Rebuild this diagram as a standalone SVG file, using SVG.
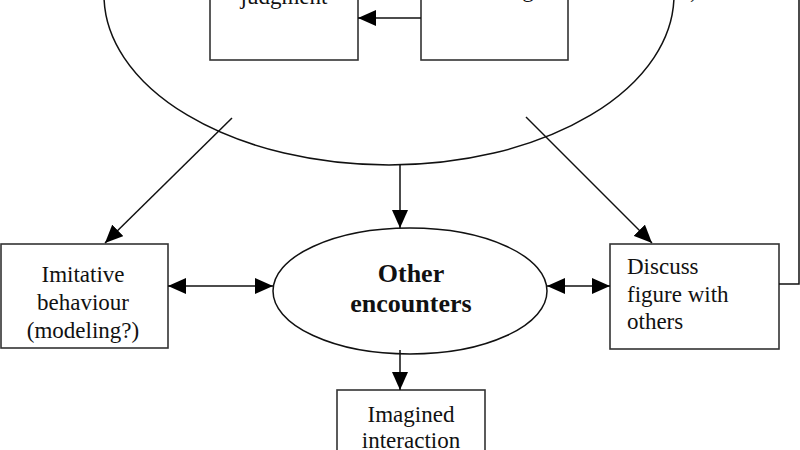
<svg xmlns="http://www.w3.org/2000/svg" width="800" height="450" viewBox="0 0 800 450">
<style>
.t{font-family:"Liberation Serif","Times New Roman",serif;font-size:23px;fill:#111}
.b{font-weight:bold;font-size:26px}
.box{fill:#fff;stroke:#333;stroke-width:1.6}
.ell{fill:#fff;stroke:#111;stroke-width:1.5}
.c{stroke:#111;stroke-width:1.5;fill:none}
</style>
<defs>
<marker id="ah" viewBox="0 0 18 16" refX="18" refY="8" markerWidth="18" markerHeight="16" markerUnits="userSpaceOnUse" orient="auto-start-reverse">
<path d="M0,0 L18,8 L0,16 z" fill="#000"/>
</marker>
</defs>
<rect width="800" height="450" fill="#fff"/>
<g id="big-ellipse">
<ellipse class="ell" cx="389" cy="-5" rx="285" ry="170"/>
<text class="t" x="690" y="-2">,</text>
</g>
<g id="judgment">
<rect class="box" x="210" y="-20" width="148" height="80"/>
<text class="t" x="284" y="4" text-anchor="middle">judgment</text>
</g>
<g id="top-right-box">
<rect class="box" x="421" y="-20" width="147" height="80"/>
<text class="t" x="528" y="-3" text-anchor="middle">g</text>
</g>
<g id="imitative">
<rect class="box" x="1" y="244" width="167" height="104"/>
<text class="t" text-anchor="middle"><tspan x="83" y="282">Imitative</tspan><tspan x="83" y="310">behaviour</tspan><tspan x="83" y="338">(modeling?)</tspan></text>
</g>
<g id="other-encounters">
<ellipse class="ell" cx="410" cy="291" rx="137" ry="63"/>
<text class="t b" text-anchor="middle"><tspan x="411" y="282">Other</tspan><tspan x="411" y="312">encounters</tspan></text>
</g>
<g id="discuss">
<rect class="box" x="610" y="244" width="169" height="105"/>
<text class="t"><tspan x="627" y="274">Discuss</tspan><tspan x="627" y="302">figure with</tspan><tspan x="627" y="329">others</tspan></text>
</g>
<g id="imagined">
<rect class="box" x="337" y="390" width="148" height="80"/>
<text class="t" text-anchor="middle"><tspan x="411" y="422">Imagined</tspan><tspan x="411" y="448">interaction</tspan></text>
</g>
<g id="connectors">
<line class="c" x1="421" y1="18" x2="358" y2="18" marker-end="url(#ah)"/>
<line class="c" x1="232" y1="118" x2="105" y2="243" marker-end="url(#ah)"/>
<line class="c" x1="526" y1="117" x2="652" y2="243" marker-end="url(#ah)"/>
<line class="c" x1="400" y1="165" x2="400" y2="228" marker-end="url(#ah)"/>
<line class="c" x1="168" y1="286" x2="273" y2="286" marker-start="url(#ah)" marker-end="url(#ah)"/>
<line class="c" x1="547" y1="286" x2="610" y2="286" marker-start="url(#ah)" marker-end="url(#ah)"/>
<line class="c" x1="400" y1="350" x2="400" y2="390" marker-end="url(#ah)"/>
<polyline class="c" points="779,284 799,284 799,-5"/>
</g>
</svg>
